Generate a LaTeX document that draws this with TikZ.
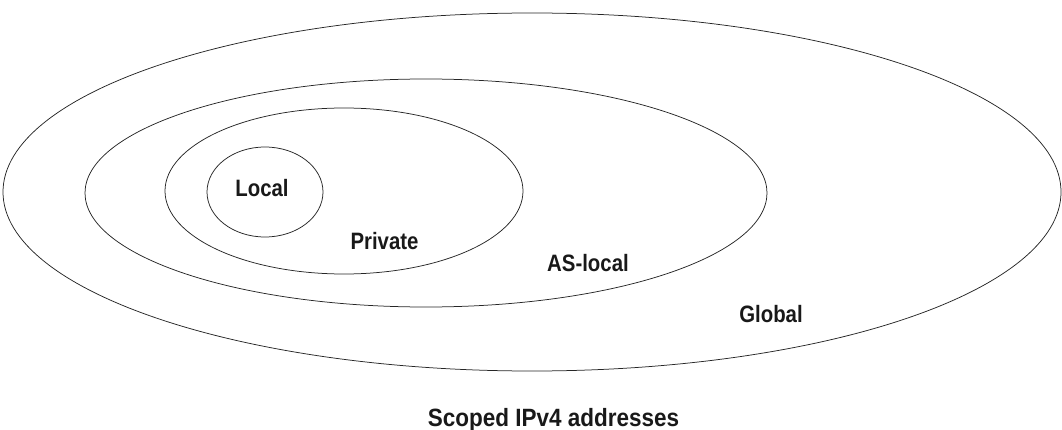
\documentclass[tikz,border=0pt]{standalone}
\usepackage{fontspec}
\setmainfont{Liberation Sans}
\newfontfamily\labelfont[FakeStretch=0.86]{Liberation Sans Bold}
\newfontfamily\captionfont[FakeStretch=0.9]{Liberation Sans Bold}
\begin{document}
\begin{tikzpicture}[x=1pt,y=-1pt,
  scope/.style={draw=black!85,line width=0.75pt},
  lbl/.style={font=\labelfont\fontsize{23.7}{26}\selectfont,inner sep=0pt,anchor=base,text=black!90}]
\useasboundingbox (0,0) rectangle (1062,430);
% nested address scopes, widest first
\draw[scope] (532,192) ellipse [x radius=529,y radius=179];
\draw[scope] (426,193) ellipse [x radius=341,y radius=114];
\draw[scope] (344,191) ellipse [x radius=179,y radius=83];
\draw[scope] (265,192) ellipse [x radius=58,y radius=45];
\node[lbl] (local) at (262,197) {Local};
\node[lbl] (private) at (384.5,250) {Private};
\node[lbl] (aslocal) at (588,272) {AS-local};
\node[lbl] (global) at (771,322) {Global};
\node[lbl,font=\captionfont\fontsize{25}{28}\selectfont] (caption) at (553.5,426) {Scoped IPv4 addresses};
\end{tikzpicture}
\end{document}
